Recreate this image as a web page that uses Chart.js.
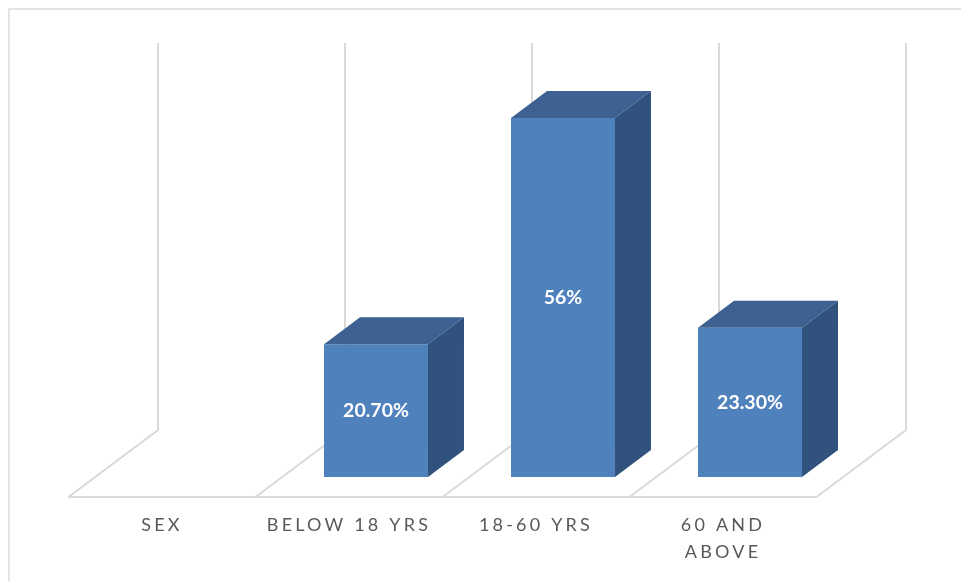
<!DOCTYPE html>
<html>
<head>
<meta charset="utf-8">
<style>
  html, body { margin: 0; padding: 0; background: #fff; }
  #wrap { position: absolute; left: 0; top: 0; width: 961px; height: 581px; }
</style>
</head>
<body>
<div id="wrap"><canvas id="chart" width="961" height="581"></canvas></div>
<script src="https://cdn.jsdelivr.net/npm/chart.js@4"></script>
<script>
const categories = ['SEX', 'BELOW 18 YRS', '18-60 YRS', ['60 AND', 'ABOVE']];
const values = [null, 20.7, 56, 23.3];
const valueLabels = ['', '20.70%', '56%', '23.30%'];

const GRID = '#d9d9d9';
const FRONT = '#4f81bd';
const TOP = '#3d6292';
const SIDE = '#30527c';
const DEPTH_X = 36;
const DEPTH_Y = 27;
// floor sticks out from the bars' base
const FLOOR_DX = 27;
const FLOOR_DY = 20;
const BACK_DX = 62.5;
const BACK_DY = 47;
const WALL_TOP = 67.7;

// frame, floor and back walls, under the bars
const wallsPlugin = {
  id: 'walls',
  beforeDatasetsDraw(chart) {
    const { ctx, scales: { x, y } } = chart;
    const base = y.getPixelForValue(0);
    const top = y.getPixelForValue(WALL_TOP);
    const step = x.getPixelForValue(1) - x.getPixelForValue(0);
    const edges = [];
    for (let i = 0; i <= categories.length; i++) {
      edges.push(x.getPixelForValue(0) - step / 2 + step * i);
    }
    ctx.save();
    ctx.strokeStyle = GRID;
    ctx.lineWidth = 2;
    ctx.beginPath();
    ctx.moveTo(edges[0] - FLOOR_DX, base + FLOOR_DY);
    ctx.lineTo(edges[edges.length - 1] - FLOOR_DX, base + FLOOR_DY);
    edges.forEach(ex => {
      ctx.moveTo(ex - FLOOR_DX, base + FLOOR_DY);
      ctx.lineTo(ex + BACK_DX, base - BACK_DY);
      ctx.lineTo(ex + BACK_DX, top);
    });
    ctx.stroke();
    // only the top and left edges of the frame show
    ctx.lineWidth = 1.5;
    ctx.strokeStyle = '#dcdcdc';
    ctx.beginPath();
    ctx.moveTo(9, 581);
    ctx.lineTo(9, 9);
    ctx.lineTo(961, 9);
    ctx.stroke();
    ctx.restore();
  }
};

// top and side faces of the boxes, plus the value labels
const boxPlugin = {
  id: 'box',
  afterDatasetsDraw(chart) {
    const { ctx } = chart;
    chart.getDatasetMeta(0).data.forEach((bar, i) => {
      if (values[i] == null) return;
      const l = bar.x - bar.width / 2;
      const r = bar.x + bar.width / 2;
      const t = bar.y;
      const b = bar.base;
      ctx.fillStyle = TOP;
      ctx.beginPath();
      ctx.moveTo(l, t);
      ctx.lineTo(l + DEPTH_X, t - DEPTH_Y);
      ctx.lineTo(r + DEPTH_X, t - DEPTH_Y);
      ctx.lineTo(r, t);
      ctx.closePath();
      ctx.fill();
      ctx.fillStyle = SIDE;
      ctx.beginPath();
      ctx.moveTo(r, t);
      ctx.lineTo(r + DEPTH_X, t - DEPTH_Y);
      ctx.lineTo(r + DEPTH_X, b - DEPTH_Y);
      ctx.lineTo(r, b);
      ctx.closePath();
      ctx.fill();
      ctx.fillStyle = '#fff';
      ctx.font = 'bold 19.5px Lato';
      ctx.textAlign = 'center';
      ctx.textBaseline = 'middle';
      ctx.fillText(valueLabels[i], bar.x, (t + b) / 2);
    });
  }
};

// axis labels are spaced out in the original
const spacingPlugin = {
  id: 'spacing',
  beforeDraw(chart) {
    chart.ctx.letterSpacing = '3.2px';
  },
  beforeDatasetsDraw(chart) {
    chart.ctx.letterSpacing = '0px';
  }
};

new Chart(document.getElementById('chart'), {
  type: 'bar',
  data: {
    labels: categories,
    datasets: [{
      data: values,
      backgroundColor: FRONT,
      borderWidth: 0,
      barPercentage: 1,
      categoryPercentage: 0.556
    }]
  },
  plugins: [spacingPlugin, wallsPlugin, boxPlugin],
  options: {
    responsive: false,
    animation: false,
    events: [],
    layout: { padding: { left: 95.5, right: 117.5, top: 28.3, bottom: 0 } },
    plugins: { legend: { display: false }, tooltip: { enabled: false } },
    scales: {
      x: {
        grid: { display: false },
        border: { display: false },
        afterFit(scale) { scale.height = 104; },
        ticks: {
          color: '#595959',
          font: { family: 'Lato', size: 18, lineHeight: 1.5 },
          padding: 27,
          labelOffset: -27,
          maxRotation: 0,
          autoSkip: false
        }
      },
      y: {
        display: false,
        min: 0,
        max: 70
      }
    }
  }
});
</script>
</body>
</html>
